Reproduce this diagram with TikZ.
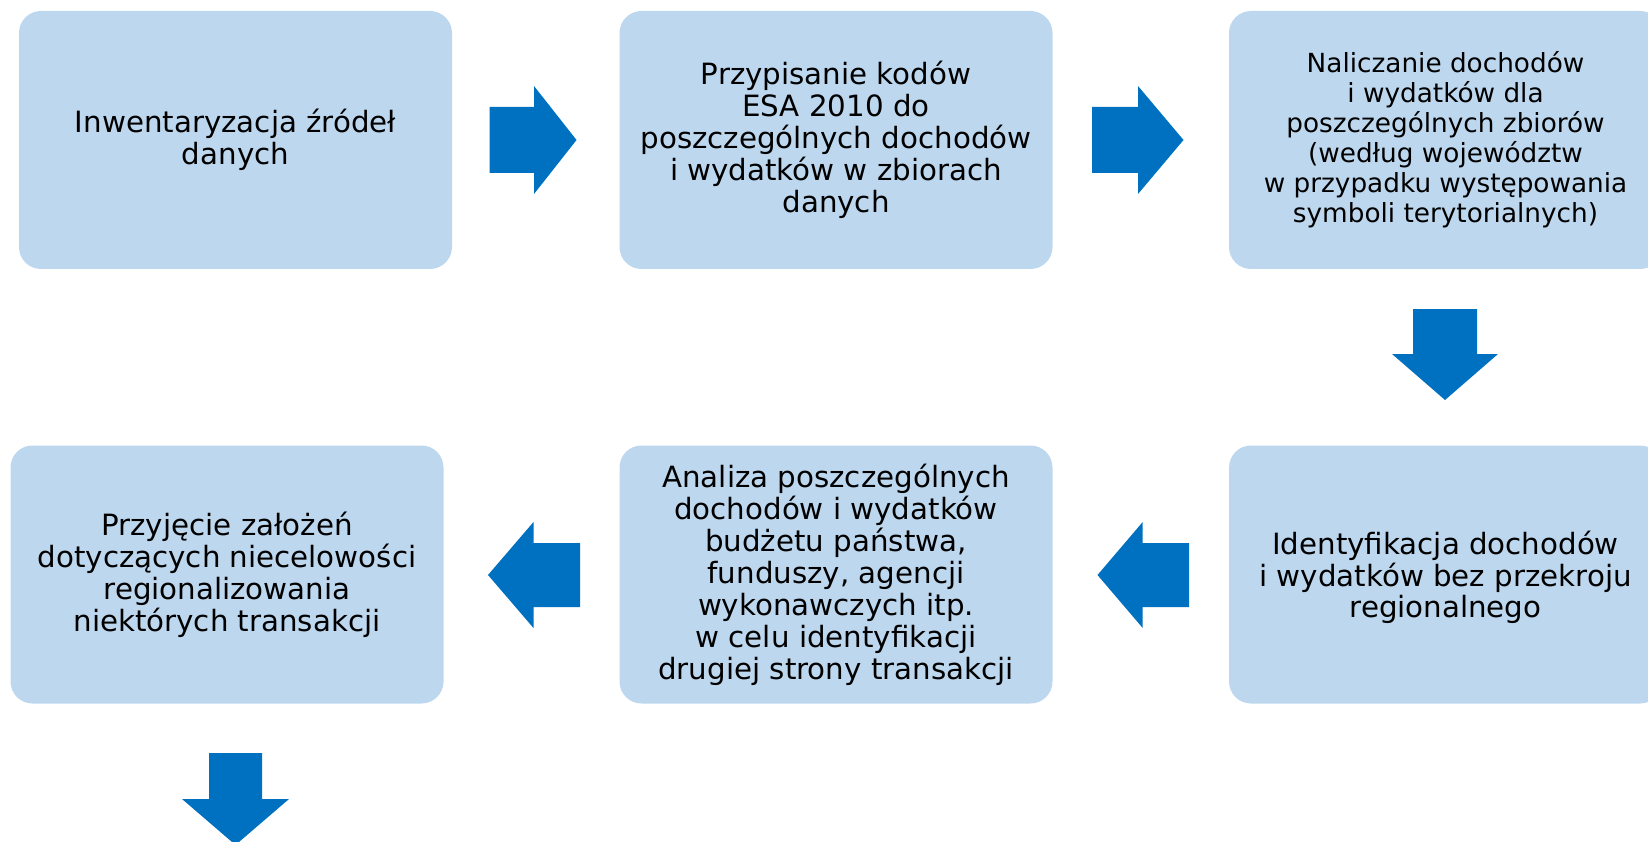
\documentclass[tikz,border=0pt]{standalone}
\usepackage{fontspec}
\setmainfont{DejaVu Sans}
\definecolor{boxblue}{HTML}{BDD7EE}
\definecolor{arrowblue}{HTML}{0070C0}
\tikzset{
  stepbox/.style={rectangle, rounded corners=22pt, fill=boxblue, draw=none,
    minimum width=433pt, minimum height=258pt, align=center, inner sep=0pt,
    text=black, font={\fontsize{29.3pt}{32pt}\selectfont}},
  smalltext/.style={font={\fontsize{26.3pt}{30pt}\selectfont}},
  blockarrow/.style={fill=arrowblue, draw=none}
}
\begin{document}
\begin{tikzpicture}[x=1pt,y=-1pt]
\useasboundingbox (0,0) rectangle (1648,842);
\node[stepbox] (b1) at (235.5,140) {Inwentaryzacja źródeł\\danych};
\node[stepbox] (b2) at (836,140) {Przypisanie kodów\\ESA 2010 do\\poszczególnych dochodów\\i wydatków w zbiorach\\danych};
\node[stepbox, smalltext] (b3) at (1445.5,140) {Naliczanie dochodów\\i wydatków dla\\poszczególnych zbiorów\\(według województw\\w przypadku występowania\\symboli terytorialnych)};
\node[stepbox] (b4) at (227,574.5) {Przyjęcie założeń\\dotyczących niecelowości\\regionalizowania\\niektórych transakcji};
\node[stepbox] (b5) at (836,574.5) {Analiza poszczególnych\\dochodów i wydatków\\budżetu państwa,\\funduszy, agencji\\wykonawczych itp.\\w celu identyfikacji\\drugiej strony transakcji};
\node[stepbox, font={\fontsize{29.3pt}{31.6pt}\selectfont}, text depth=0pt] (b6) at (1445.5,574.5) {Identyfikacja dochodów\\i wydatków bez przekroju\\regionalnego};
% block arrows
\fill[blockarrow] (489.5,107) -- (534,107) -- (534,86) -- (576.5,140) -- (534,194) -- (534,173) -- (489.5,173) -- cycle;
\fill[blockarrow] (1092,107) -- (1138,107) -- (1138,86) -- (1183.5,140) -- (1138,194) -- (1138,173) -- (1092,173) -- cycle;
\fill[blockarrow] (1413,309) -- (1477,309) -- (1477,354) -- (1498,354) -- (1445,400) -- (1392,354) -- (1413,354) -- cycle;
\fill[blockarrow] (1189,543) -- (1142.7,543) -- (1142.7,522) -- (1097.5,575) -- (1142.7,628) -- (1142.7,607) -- (1189,607) -- cycle;
\fill[blockarrow] (580,543) -- (533.5,543) -- (533.5,522) -- (488,575) -- (533.5,628) -- (533.5,607) -- (580,607) -- cycle;
\fill[blockarrow] (209,753) -- (262,753) -- (262,799) -- (289,799) -- (235.5,845) -- (182,799) -- (209,799) -- cycle;
\end{tikzpicture}
\end{document}
